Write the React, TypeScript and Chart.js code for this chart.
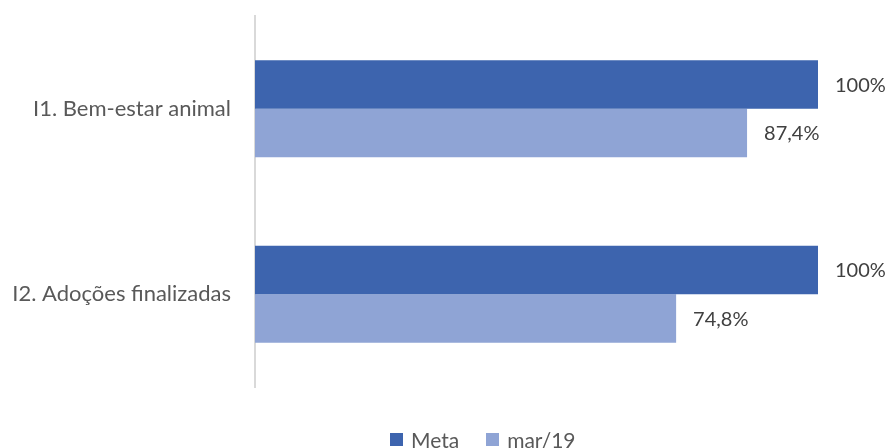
import React, { useEffect, useRef } from "react";
import { Chart, registerables } from "chart.js";

Chart.register(...registerables);

const categories = ["I1. Bem-estar animal", "I2. Adoções finalizadas"];
const metaValues = [100, 100];
const marValues = [87.4, 74.8];
const seriesNames = ["Meta", "mar/19"];
const colors = ["#3D64AE", "#8FA4D5"];

const FONT = "Lato, 'Open Sans', sans-serif";

function fmt(v: number): string {
  return (Number.isInteger(v) ? String(v) : v.toFixed(1).replace(".", ",")) + "%";
}

const labelPlugin = {
  id: "barLabels",
  afterDatasetsDraw(chart: any) {
    const ctx = chart.ctx;
    ctx.save();
    ctx.font = `20px ${FONT}`;
    ctx.fillStyle = "#404040";
    ctx.textBaseline = "middle";
    ctx.textAlign = "left";
    chart.data.datasets.forEach((ds: any, i: number) => {
      const meta = chart.getDatasetMeta(i);
      meta.data.forEach((el: any, j: number) => {
        ctx.fillText(fmt(ds.data[j]), el.x + 17, el.y + 1);
      });
    });
    ctx.restore();
  },
};

export default function App() {
  const ref = useRef<HTMLCanvasElement>(null);
  useEffect(() => {
    if (!ref.current) return;
    const chart = new Chart(ref.current, {
      type: "bar",
      data: {
        labels: categories,
        datasets: [
          { label: seriesNames[0], data: metaValues, backgroundColor: colors[0] },
          { label: seriesNames[1], data: marValues, backgroundColor: colors[1] },
        ],
      },
      options: {
        indexAxis: "y",
        responsive: false,
        animation: false,
        devicePixelRatio: 1,
        layout: { padding: { top: 16, right: 73, bottom: 13, left: 0 } },
        datasets: { bar: { barPercentage: 1, categoryPercentage: 0.523 } },
        plugins: { legend: { display: false }, tooltip: { enabled: false } },
        scales: {
          x: { display: false, min: 0, max: 100 },
          y: {
            grid: { display: false, drawTicks: false },
            border: { display: true, color: "#D9D9D9", width: 2 },
            ticks: { color: "#595959", font: { family: FONT, size: 22 }, padding: 24 },
            afterFit: (s: any) => {
              s.width = 255;
              s.paddingTop = 0;
              s.paddingBottom = 0;
            },
          },
        },
      },
      plugins: [labelPlugin],
    } as any);
    return () => chart.destroy();
  }, []);

  const sq = (c: string) => ({ display: "inline-block", width: 13, height: 13, background: c, marginRight: 8 });
  return (
    <div style={{ position: "fixed", left: 0, top: 0, width: 891, height: 448, background: "#fff" }}>
      <canvas ref={ref} width={891} height={400} style={{ display: "block" }} />
      <div
        style={{
          position: "absolute", left: 390, top: 429, height: 20, display: "flex", alignItems: "center",
          fontFamily: FONT, fontSize: 21, color: "#595959", whiteSpace: "nowrap",
        }}
      >
        <span style={sq(colors[0])} />
        <span style={{ marginRight: 27 }}>{seriesNames[0]}</span>
        <span style={sq(colors[1])} />
        <span>{seriesNames[1]}</span>
      </div>
    </div>
  );
}
